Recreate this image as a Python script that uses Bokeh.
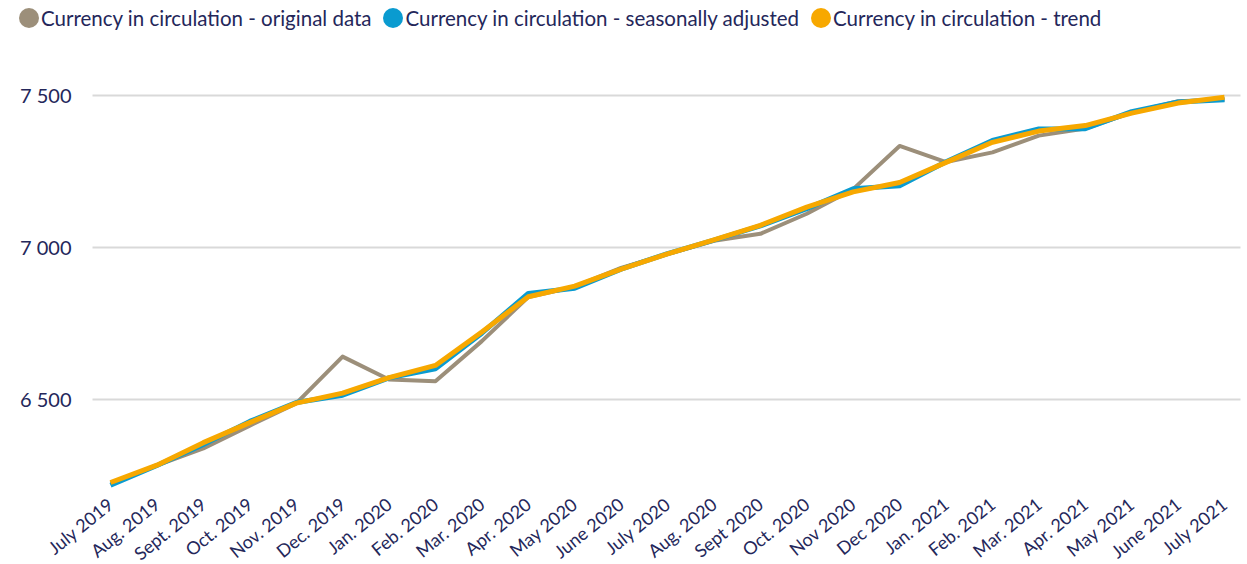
from bokeh.plotting import figure
from bokeh.models import ColumnDataSource, Range1d, FixedTicker, Legend, LegendItem
from bokeh.embed import file_html
from bokeh.resources import INLINE

months = ["July 2019", "Aug. 2019", "Sept. 2019", "Oct. 2019", "Nov. 2019", "Dec. 2019",
          "Jan. 2020", "Feb. 2020", "Mar. 2020", "Apr. 2020", "May 2020", "June 2020",
          "July 2020", "Aug. 2020", "Sept 2020", "Oct. 2020", "Nov 2020", "Dec 2020",
          "Jan. 2021", "Feb. 2021", "Mar. 2021", "Apr. 2021", "May 2021", "June 2021",
          "July 2021"]

original = [6224, 6283, 6339, 6414, 6487, 6641, 6566, 6560, 6692, 6837, 6871, 6933,
            6978, 7022, 7045, 7111, 7192, 7334, 7281, 7313, 7368, 7391, 7444, 7481, 7487]
seasonal = [6218, 6283, 6352, 6428, 6490, 6514, 6571, 6601, 6718, 6849, 6866, 6929,
            6980, 7024, 7071, 7128, 7193, 7203, 7282, 7352, 7390, 7391, 7447, 7479, 7486]
trend = [6227, 6284, 6358, 6424, 6488, 6521, 6572, 6612, 6722, 6838, 6873, 6929,
         6979, 7025, 7073, 7133, 7183, 7214, 7280, 7346, 7383, 7401, 7442, 7475, 7494]

y_ticks = [6500, 7000, 7500]
y_tick_labels = ["6 500", "7 000", "7 500"]
series_names = ["Currency in circulation - original data",
                "Currency in circulation - seasonally adjusted",
                "Currency in circulation - trend"]

GRAY = "#9c8f7a"
BLUE = "#0a9bd0"
ORANGE = "#f7a800"
NAVY = "#24275a"
FONT = "Lato"

W, H = 1247, 564
# plotting-area layout (data units)
X_START, X_END = -2.3698, 24.495
Y_START, Y_END = 5957.2, 7812.5
PLOT_LEFT, PLOT_RIGHT = -0.388, 24.344   # where the gridlines start / stop
PLOT_BOTTOM = 6200.7                       # baseline of the category axis

x = list(range(len(months)))
src = ColumnDataSource(dict(x=x, orig=original, sa=seasonal, trend=trend))

p = figure(width=W, height=H, output_backend="svg", toolbar_location=None,
           x_range=Range1d(X_START, X_END), y_range=Range1d(Y_START, Y_END),
           min_border_left=0, min_border_right=0, min_border_top=0, min_border_bottom=0)
p.outline_line_color = None
p.background_fill_color = "white"
p.border_fill_color = "white"

# grid
p.xgrid.visible = False
p.ygrid.ticker = FixedTicker(ticks=y_ticks)
p.ygrid.grid_line_color = "#d9d9d9"
p.ygrid.grid_line_width = 2
p.ygrid.cross_bounds = (PLOT_LEFT, PLOT_RIGHT)

# y axis
yax = p.yaxis[0]
yax.fixed_location = PLOT_LEFT
yax.ticker = FixedTicker(ticks=y_ticks)
yax.major_label_overrides = {t: l for t, l in zip(y_ticks, y_tick_labels)}
yax.axis_line_color = None
yax.major_tick_line_color = None
yax.minor_tick_line_color = None
yax.major_tick_out = 0
yax.major_tick_in = 0
yax.major_label_standoff = 21
yax.major_label_text_font = FONT
yax.major_label_text_font_size = "20px"
yax.major_label_text_color = NAVY

# x axis
xax = p.xaxis[0]
xax.fixed_location = PLOT_BOTTOM
xax.ticker = FixedTicker(ticks=x)
xax.major_label_overrides = {i: m for i, m in zip(x, months)}
xax.axis_line_color = None
xax.major_tick_line_color = None
xax.minor_tick_line_color = None
xax.major_tick_out = 0
xax.major_tick_in = 0
xax.major_label_standoff = 11
xax.major_label_orientation = 0.68
xax.major_label_text_font = FONT
xax.major_label_text_font_size = "18px"
xax.major_label_text_color = NAVY

# lines
p.line("x", "orig", source=src, line_color=GRAY, line_width=4, line_join="round")
p.line("x", "sa", source=src, line_color=BLUE, line_width=5, line_join="round")
p.line("x", "trend", source=src, line_color=ORANGE, line_width=5, line_join="round")

# legend swatches (circles)
dummy = ColumnDataSource(dict(x=[float("nan")], y=[float("nan")]))
swatches = []
for c in [GRAY, BLUE, ORANGE]:
    swatches.append(p.ellipse("x", "y", width=20, height=20, width_units="screen",
                              height_units="screen", source=dummy, fill_color=c,
                              line_color=None))

legend = Legend(items=[LegendItem(label=n, renderers=[r]) for n, r in zip(series_names, swatches)],
                orientation="horizontal", location=(16, 534),
                glyph_width=25, glyph_height=25, label_standoff=0, spacing=9,
                padding=0, margin=0, border_line_color=None, background_fill_alpha=0,
                label_text_font=FONT, label_text_font_size="20.5px",
                label_text_color=NAVY, label_text_baseline="middle")
p.add_layout(legend, "center")

open("out.html", "w").write(file_html(p, INLINE))
